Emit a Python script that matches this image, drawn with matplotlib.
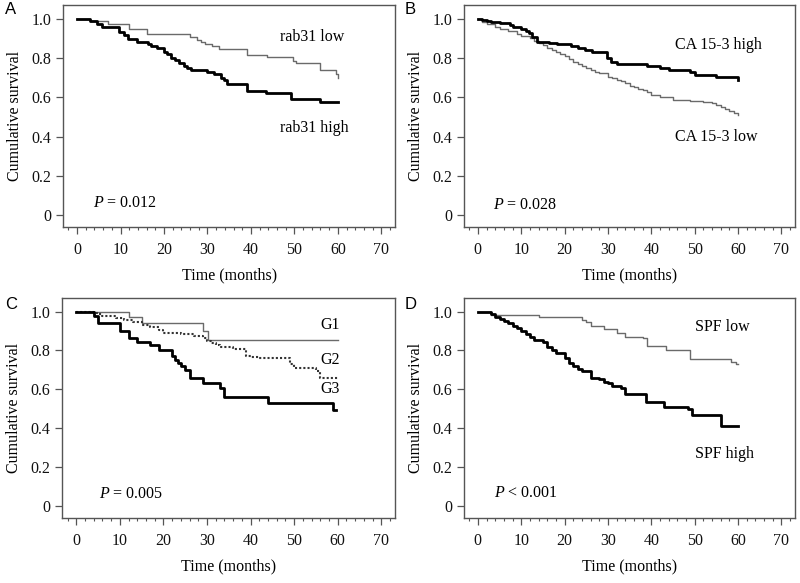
# Kaplan-Meier survival curves, four panels (A-D)

import numpy as np
import matplotlib
matplotlib.use("Agg")
import matplotlib.pyplot as plt
from matplotlib.ticker import MultipleLocator, FixedLocator

# -------------------------------
# 1. Data
# -------------------------------
# A: rab31
a_low_t = [0, 3, 7, 12, 16, 26, 27.5, 28.5, 29.5, 31, 32.7, 39.2, 43.8, 49.6, 50.4, 56, 59.6, 60]
a_low_s = [1.0, 0.99, 0.975, 0.95, 0.925, 0.91, 0.895, 0.88, 0.87, 0.86, 0.845, 0.815, 0.805, 0.785, 0.775, 0.74, 0.72, 0.70]
a_high_t = [0, 3, 4.6, 5.8, 9.6, 10.8, 11.8, 13.8, 16.2, 17, 18.5, 20, 20.8, 21.5, 22.5, 23.5, 24.5, 25.4,
            26.2, 30, 31.5, 33, 33.8, 34.6, 39.2, 43.4, 49.2, 55.8, 60]
a_high_s = [1.0, 0.99, 0.975, 0.96, 0.935, 0.92, 0.90, 0.88, 0.87, 0.86, 0.85, 0.83, 0.82, 0.80, 0.79, 0.775, 0.76, 0.75,
            0.74, 0.73, 0.72, 0.70, 0.69, 0.67, 0.635, 0.62, 0.59, 0.575, 0.575]

# B: CA 15-3
b_high_t = [0, 1, 2, 3, 5.2, 7.5, 8.2, 10, 11, 11.8, 12.5, 13.7, 16.4, 18.3, 21.4, 23, 24.8, 26.4, 29.8,
            30.6, 32, 39, 42, 44, 49, 50.2, 55, 60]
b_high_s = [1.0, 0.995, 0.99, 0.985, 0.98, 0.97, 0.96, 0.95, 0.94, 0.93, 0.91, 0.88, 0.875, 0.87, 0.86, 0.85, 0.84, 0.83, 0.80,
            0.78, 0.77, 0.76, 0.75, 0.74, 0.73, 0.715, 0.705, 0.69]
b_low_t = [0, 1, 2, 4, 5, 7, 9, 10, 12, 13, 14, 15, 16, 17, 18, 19, 20, 21, 22, 23, 24, 25, 26, 27, 28, 30, 31, 32, 33,
           34, 35, 36, 37, 38, 39, 40, 42, 45, 49, 52, 54, 55, 56, 57, 58, 59, 60]
b_low_s = [1.0, 0.985, 0.975, 0.96, 0.95, 0.94, 0.925, 0.915, 0.905, 0.89, 0.875, 0.865, 0.85, 0.84, 0.83, 0.82, 0.81,
           0.795, 0.78, 0.77, 0.76, 0.75, 0.74, 0.73, 0.725, 0.705, 0.70, 0.69, 0.685, 0.675, 0.66, 0.655, 0.645, 0.64,
           0.63, 0.61, 0.60, 0.585, 0.58, 0.575, 0.57, 0.56, 0.55, 0.54, 0.53, 0.52, 0.51]

# C: grade
c_g1_t = [0, 12, 15, 29, 30.2, 60]
c_g1_s = [1.0, 0.97, 0.94, 0.90, 0.855, 0.855]
c_g2_t = [0, 4, 5, 6, 9, 11, 13, 15, 17, 19, 20, 24, 27, 29, 30, 31, 32, 33, 36, 39, 40, 42, 49, 50, 55, 56, 60]
c_g2_s = [1.0, 0.99, 0.985, 0.975, 0.965, 0.955, 0.945, 0.93, 0.92, 0.905, 0.89, 0.885, 0.875, 0.865, 0.85, 0.84,
          0.83, 0.82, 0.805, 0.77, 0.765, 0.76, 0.73, 0.71, 0.695, 0.66, 0.655]
c_g3_t = [0, 4, 5, 10, 12, 14, 17, 19, 22, 22.7, 23.3, 24, 25, 26, 29, 33, 34, 44, 59, 59.5]
c_g3_s = [1.0, 0.975, 0.94, 0.90, 0.865, 0.845, 0.83, 0.80, 0.77, 0.75, 0.735, 0.72, 0.70, 0.66, 0.635, 0.605,
          0.56, 0.53, 0.495, 0.495]

# D: SPF
d_low_t = [0, 3, 14, 24, 25, 26, 29, 32, 34, 38, 39, 43.5, 49, 58.5, 59.5, 60]
d_low_s = [1.0, 0.98, 0.97, 0.955, 0.945, 0.925, 0.91, 0.89, 0.87, 0.865, 0.825, 0.80, 0.755, 0.74, 0.73, 0.73]
d_high_t = [0, 3, 4, 5, 6, 7, 8, 9, 10, 11, 12, 13, 15, 16, 17, 18, 20, 21, 22, 23, 24, 26, 28, 29, 30, 31, 33,
            34, 38.7, 43, 48.5, 49.5, 56, 60]
d_high_s = [1.0, 0.985, 0.97, 0.96, 0.95, 0.94, 0.925, 0.915, 0.90, 0.885, 0.87, 0.855, 0.845, 0.82, 0.80, 0.785,
            0.76, 0.735, 0.72, 0.705, 0.695, 0.66, 0.655, 0.64, 0.63, 0.615, 0.605, 0.575, 0.535, 0.51, 0.50, 0.47,
            0.41, 0.41]

y_ticks = [0, 0.2, 0.4, 0.6, 0.8, 1.0]
y_tick_labels = ["0", "0.2", "0.4", "0.6", "0.8", "1.0"]
x_ticks = [0, 10, 20, 30, 40, 50, 60, 70]

# -------------------------------
# 2. Style
# -------------------------------
plt.rcParams['font.family'] = ['Liberation Serif', 'DejaVu Serif']
plt.rcParams['mathtext.fontset'] = 'custom'
plt.rcParams['mathtext.rm'] = 'Liberation Serif'
plt.rcParams['mathtext.it'] = 'Liberation Serif:italic'

THIN = dict(color='#6a6a6a', lw=1.0)
THICK = dict(color='black', lw=2.0)
FRAME = '#555555'
FS = 11.5


def setup_axes(ax):
    ax.set_xlim(-3.2, 73.2)
    ax.set_ylim(-0.06, 1.07)
    ax.xaxis.set_major_locator(FixedLocator(x_ticks))
    ax.xaxis.set_minor_locator(MultipleLocator(2))
    ax.yaxis.set_major_locator(FixedLocator(y_ticks))
    ax.set_yticklabels(y_tick_labels)
    ax.tick_params(which='major', direction='out', length=5, width=0.9, colors=FRAME,
                   labelcolor='#111111', labelsize=FS)
    ax.tick_params(which='minor', direction='out', length=2.5, width=0.8, colors=FRAME)
    ax.tick_params(axis='x', pad=6)
    for sp in ax.spines.values():
        sp.set_color(FRAME)
        sp.set_linewidth(1.0)
    ax.set_xlabel("Time (months)", fontsize=FS, labelpad=7)
    ax.set_ylabel("Cumulative survival", fontsize=FS, labelpad=6)


fig = plt.figure(figsize=(8.0, 5.83), dpi=100)
axA = fig.add_axes([0.079, 0.611, 0.415, 0.380])
axB = fig.add_axes([0.580, 0.611, 0.414, 0.380])
axC = fig.add_axes([0.078, 0.112, 0.416, 0.377])
axD = fig.add_axes([0.580, 0.112, 0.414, 0.377])

# panel letters
letter_font = dict(fontsize=12, family=['Liberation Sans', 'DejaVu Sans'], va='center', ha='left')
fig.text(0.006, 0.983, "A", **letter_font)
fig.text(0.506, 0.983, "B", **letter_font)
fig.text(0.006, 0.477, "C", **letter_font)
fig.text(0.506, 0.477, "D", **letter_font)

# -------------------------------
# 3. Panels
# -------------------------------
setup_axes(axA)
axA.step(a_low_t, a_low_s, where='post', **THIN)
axA.step(a_high_t, a_high_s, where='post', **THICK)
axA.text(46.7, 0.91, "rab31 low", fontsize=FS, va='center')
axA.text(46.7, 0.445, "rab31 high", fontsize=FS, va='center')
axA.text(3.7, 0.06, "$P$ = 0.012", fontsize=FS, va='center')

setup_axes(axB)
axB.step(b_low_t, b_low_s, where='post', **THIN)
axB.step(b_high_t, b_high_s, where='post', **THICK)
axB.text(45.5, 0.865, "CA 15-3 high", fontsize=FS, va='center')
axB.text(45.5, 0.40, "CA 15-3 low", fontsize=FS, va='center')
axB.text(3.6, 0.05, "$P$ = 0.028", fontsize=FS, va='center')

setup_axes(axC)
axC.step(c_g1_t, c_g1_s, where='post', **THIN)
axC.step(c_g2_t, c_g2_s, where='post', color='#333333', lw=1.5, ls=(0, (1, 1)))
axC.step(c_g3_t, c_g3_s, where='post', **THICK)
axC.text(56, 0.93, "G1", fontsize=FS, va='center')
axC.text(56, 0.75, "G2", fontsize=FS, va='center')
axC.text(56, 0.60, "G3", fontsize=FS, va='center')
axC.text(5.2, 0.06, "$P$ = 0.005", fontsize=FS, va='center')

setup_axes(axD)
axD.step(d_low_t, d_low_s, where='post', **THIN)
axD.step(d_high_t, d_high_s, where='post', **THICK)
axD.text(50, 0.92, "SPF low", fontsize=FS, va='center')
axD.text(50, 0.265, "SPF high", fontsize=FS, va='center')
axD.text(3.7, 0.065, "$P$ < 0.001", fontsize=FS, va='center')

fig.savefig("out.png", dpi=100)
